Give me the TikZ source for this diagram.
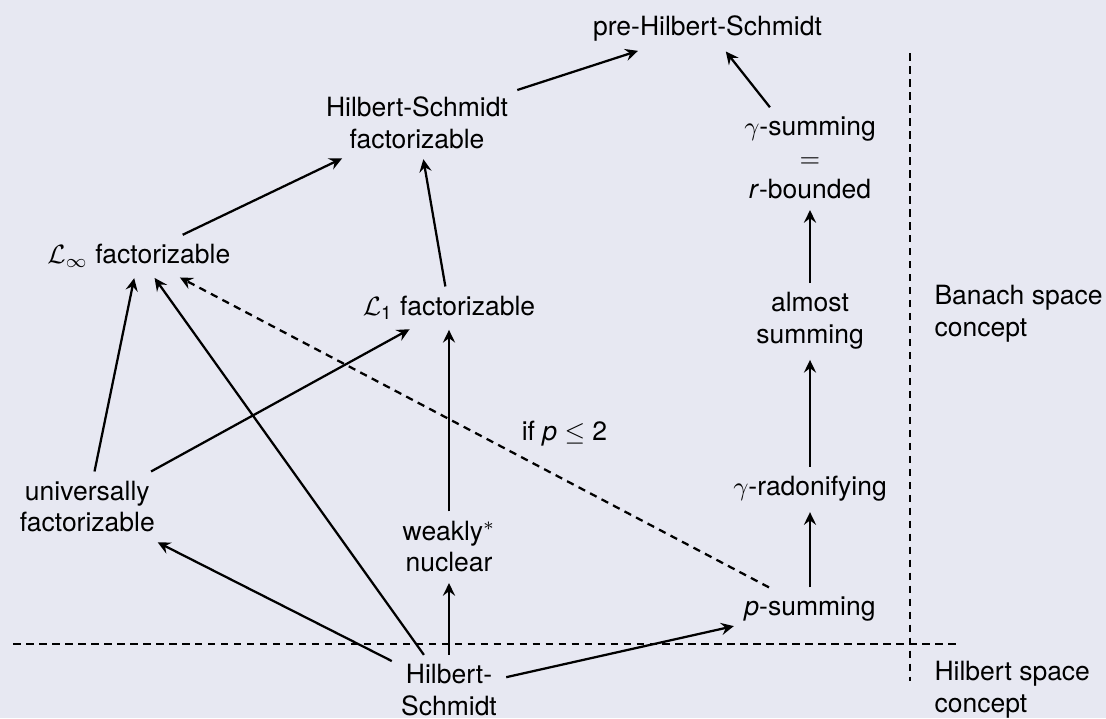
\documentclass[tikz,border=0pt]{standalone}
\usepackage{amsmath}
\usepackage{fontspec}
\setmainfont{TeX Gyre Heros}
\usetikzlibrary{arrows.meta}
\definecolor{bgc}{RGB}{231,232,242}
\begin{document}
\begin{tikzpicture}[x=0.3774pt,y=-0.3774pt,
  every node/.style={font=\fontsize{10}{12}\selectfont, align=center, text=black},
  arr/.style={draw=black, line width=0.85pt, -{Stealth[length=4.8pt,width=4.6pt,inset=1.7pt]}, shorten >=0.5pt},
  darr/.style={arr, dash pattern=on 2.8pt off 2.1pt},
  sep/.style={draw=black, line width=0.85pt, dash pattern=on 2.8pt off 2.1pt}]
\fill[bgc] (0,0) rectangle (1106,718);
\useasboundingbox (0,0) rectangle (1106,718);
% nodes
\node (preHS) at (707.5,28.3) {pre-Hilbert-Schmidt};
\node (HSf) at (417,122.5) {Hilbert-Schmidt\\factorizable};
\node (Linf) at (138.8,255.8) {$\mathcal{L}_\infty$ factorizable};
\node (L1) at (449,307.5) {$\mathcal{L}_{\text{1}}$ factorizable};
\node (gsum) at (810,158) {$\gamma$-summing\\$=$\\\textit{r}-bounded};
\node (alm) at (810,320.8) {almost\\summing};
\node (grad) at (810,488.9) {$\gamma$-radonifying};
\node (psum) at (810,609) {\textit{p}-summing};
\node (HS) at (449,690) {Hilbert-\\Schmidt};
\node (wn) at (449,546.6) {weakly$^*$\\nuclear};
\node (uf) at (87.3,506.6) {universally\\factorizable};
\node[anchor=west, align=left] (ban) at (925.2,314.1) {Banach space\\concept};
\node[anchor=west, align=left] (hil) at (925.2,689.8) {Hilbert space\\concept};
\node (cond) at (564.5,433.2) {if $\textit{p} \leq \text{2}$};
% separators
\coordinate (hl) at (13.3,644);
\coordinate (hr) at (958,644);
\coordinate (vt) at (910.3,53.3);
\coordinate (vb) at (910.3,680.7);
\draw[sep] (hl) -- (hr);
\draw[sep] (vt) -- (vb);
% arrows
\draw[arr] (HSf) -- (preHS);
\draw[arr] (gsum) -- (preHS);
\draw[arr] (Linf) -- (HSf);
\draw[arr] (L1) -- (HSf);
\draw[arr] (alm) -- (gsum);
\draw[arr] (grad) -- (alm);
\draw[arr] (psum) -- (grad);
\draw[arr] (HS) -- (psum);
\draw[arr] (HS) -- (wn);
\draw[arr] (wn) -- (L1);
\draw[arr] (HS) -- (uf);
\draw[arr] (HS) -- (Linf);
\draw[arr] (uf) -- (Linf);
\draw[arr] (uf) -- (L1);
\draw[darr] (psum) -- (Linf);
\end{tikzpicture}
\end{document}
